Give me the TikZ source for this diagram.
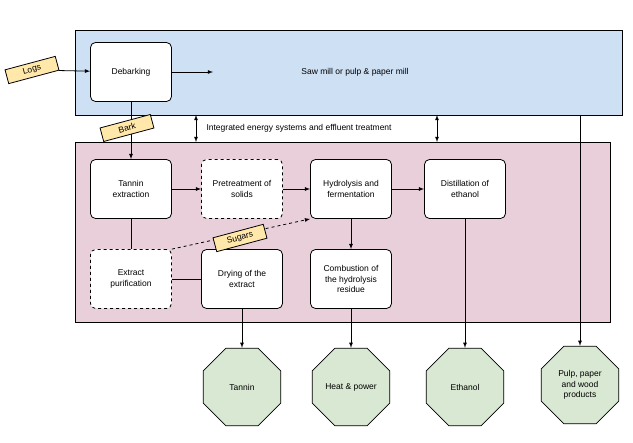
\documentclass[tikz,border=0pt]{standalone}
\usepackage{fontspec}
\setmainfont{Liberation Sans}
\usetikzlibrary{shapes.geometric}
\definecolor{millblue}{RGB}{205,224,244}
\definecolor{procpink}{RGB}{232,207,218}
\definecolor{tagyellow}{RGB}{255,232,170}
\definecolor{prodgreen}{RGB}{216,232,210}
\tikzset{
    stage/.style={draw,thick,rounded corners=5pt,fill=white,minimum width=81pt,minimum height=59pt,align=center,font=\fontsize{8.5}{10.5}\selectfont},
    dstage/.style={stage,dashed},
    tag/.style={draw,thick,fill=tagyellow,rotate=15,minimum width=52pt,minimum height=14pt,font=\fontsize{8.5}{9}\selectfont},
    product/.style={draw,thick,fill=prodgreen,regular polygon,regular polygon sides=8,minimum size=84pt,inner sep=0pt,align=center,font=\fontsize{8.5}{10.5}\selectfont},
    arr/.style={thick,-latex}
}
\begin{document}
\begin{tikzpicture}[x=1pt,y=-1pt]
\useasboundingbox (0,0) rectangle (633,443);
% mill areas
\draw[thick,fill=millblue] (75,30) rectangle (622,115);
\draw[thick,fill=procpink] (75,142) rectangle (610,322);
\node[font=\fontsize{8.5}{10}\selectfont] (mill) at (355,72) {Saw mill or pulp \& paper mill};
\node[stage] (debark) at (131,72) {Debarking};
\coordinate (mout) at (213,72);
% process steps
\node[stage] (tannin) at (131,189) {Tannin\\extraction};
\node[dstage] (pretreat) at (242,189) {Pretreatment of\\solids};
\node[stage] (hydro) at (351,189) {Hydrolysis and\\fermentation};
\node[stage] (distil) at (465,189) {Distillation of\\ethanol};
\node[dstage] (purif) at (131,279) {Extract\\purification};
\node[stage] (dry) at (242,279) {Drying of the\\extract};
\node[stage] (comb) at (351,279) {Combustion of\\the hydrolysis\\residue};
% products
\node[product] (ptannin) at (242,387) {Tannin};
\node[product] (pheat) at (351,387) {Heat \& power};
\node[product] (pethanol) at (465,387) {Ethanol};
\node[product] (ppulp) at (580,385) {Pulp, paper\\and wood\\products};
\coordinate (pulptop) at (580,115);
% integrated energy
\coordinate (ea1) at (196,115);
\coordinate (eb1) at (196,142);
\coordinate (ea2) at (437,115);
\coordinate (eb2) at (437,142);
\draw[thick,latex-latex] (ea1) -- (eb1);
\draw[thick,latex-latex] (ea2) -- (eb2);
\node[anchor=west,font=\fontsize{8.5}{10}\selectfont] (energy) at (203,128) {Integrated energy systems and effluent treatment};
% flows
\node[tag] (logs) at (32,70) {Logs};
\draw[arr] (logs) -- (debark);
\draw[arr] (debark) -- (mout);
\draw[arr] (debark) -- (tannin);
\node[tag] (bark) at (127,128) {Bark};
\draw[arr] (tannin) -- (pretreat);
\draw[arr] (pretreat) -- (hydro);
\draw[arr] (hydro) -- (distil);
\draw[arr] (hydro) -- (comb);
\draw[thick] (tannin) -- (purif);
\draw[thick] (purif) -- (dry);
\draw[arr,dashed] (purif.north east) -- (hydro.south west);
\node[tag] (sugars) at (240,238) {Sugars};
\draw[arr] (dry) -- (ptannin);
\draw[arr] (comb) -- (pheat);
\draw[arr] (distil) -- (pethanol);
\draw[arr] (pulptop) -- (ppulp);
\end{tikzpicture}
\end{document}
